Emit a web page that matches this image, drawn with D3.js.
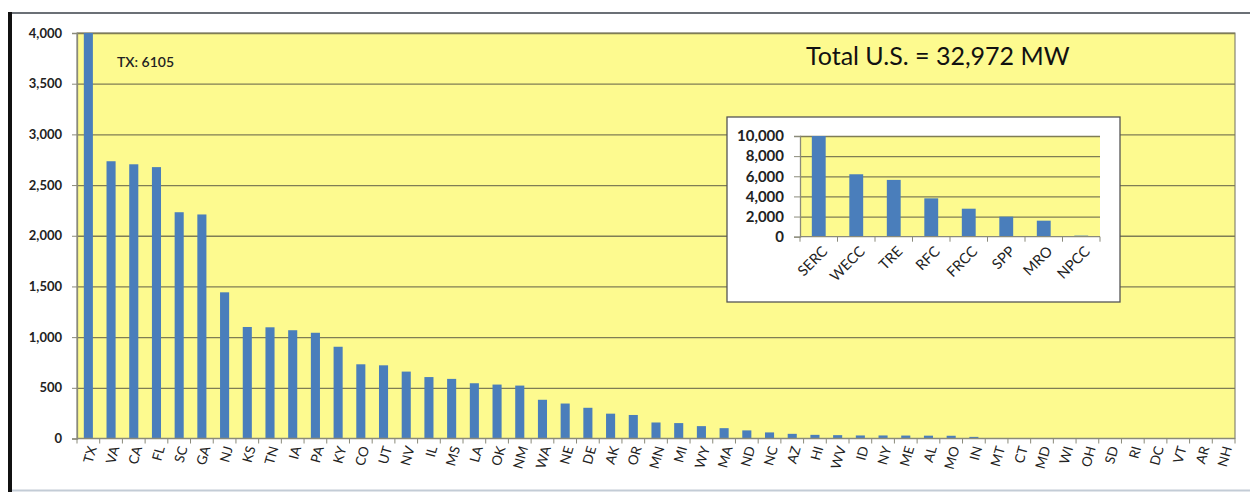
<!DOCTYPE html>
<html>
<head>
<meta charset="utf-8">
<script src="https://cdn.jsdelivr.net/npm/d3@7"></script>
<style>
  body { margin: 0; background: #fff; }
  text { font-family: Lato, "Open Sans", sans-serif; }
</style>
</head>
<body>
<div id="wrapper"></div>
<script>
// data (MW)
const states = ["TX","VA","CA","FL","SC","GA","NJ","KS","TN","IA","PA","KY","CO","UT","NV","IL","MS","LA","OK","NM",
  "WA","NE","DE","AK","OR","MN","MI","WY","MA","ND","NC","AZ","HI","WV","ID","NY","ME","AL","MO","IN",
  "MT","CT","MD","WI","OH","SD","RI","DC","VT","AR","NH"]
const stateMW = [6105,2735,2705,2677,2232,2210,1442,1100,1097,1068,1043,905,732,722,660,606,588,545,532,522,
  382,345,303,245,232,158,152,122,102,80,60,46,36,33,30,30,29,28,27,16,
  5,2,1,0,0,0,0,0,0,0,0]
const regions = ["SERC","WECC","TRE","RFC","FRCC","SPP","MRO","NPCC"]
const regionMW = [10850,6200,5640,3810,2780,1990,1590,110]
const totalUS = 32972
const yTicks = [0,500,1000,1500,2000,2500,3000,3500,4000]
const insetTicks = [0,2000,4000,6000,8000,10000]

const W = 1250, H = 492
const plot = { left: 77, right: 1235, top: 33, bottom: 438.5 }
const inset = { left: 800, right: 1100, top: 136, bottom: 236.7 }

const colors = {
  plotBg: "#fdfa8f",
  bar: "#4a7ebb",
  grid: "#7f7d55",
  axis: "#8a8a7a",
  text: "#222",
}

const svg = d3.select("#wrapper").append("svg")
  .attr("width", W).attr("height", H)

// page frame
svg.append("line")
  .attr("x1", 10).attr("x2", W).attr("y1", 13).attr("y2", 13)
  .attr("stroke", "#6b7076").attr("stroke-width", 2)
svg.append("rect")
  .attr("x", 8).attr("y", 12).attr("width", 4).attr("height", H - 12)
  .attr("fill", "#111")
svg.append("line")
  .attr("x1", 12).attr("x2", W).attr("y1", 490.5).attr("y2", 490.5)
  .attr("stroke", "#c3ccd6").attr("stroke-width", 2)

// ---------- main chart ----------
const x = d3.scaleBand()
  .domain(states)
  .range([plot.left, plot.right])
  .paddingInner(0.6)
  .paddingOuter(0.3)

const y = d3.scaleLinear()
  .domain([0, 4000])
  .range([plot.bottom, plot.top])

svg.append("rect")
  .attr("x", plot.left).attr("y", plot.top)
  .attr("width", plot.right - plot.left).attr("height", plot.bottom - plot.top)
  .attr("fill", colors.plotBg)
  .attr("stroke", "#6f6f60")

// gridlines
const grid = svg.append("g")
  .attr("transform", `translate(${plot.left},0)`)
  .call(d3.axisLeft(y).tickValues(yTicks.slice(1)).tickSize(-(plot.right - plot.left)).tickFormat(""))
grid.select(".domain").remove()
grid.selectAll("line").attr("stroke", colors.grid).attr("stroke-width", 1.3)

// bars (TX is cut at the top of the axis)
const yMax = y.domain()[1]
svg.append("g").selectAll("rect")
  .data(states)
  .join("rect")
    .attr("x", d => x(d))
    .attr("width", x.bandwidth())
    .attr("y", (d, i) => y(Math.min(stateMW[i], yMax)))
    .attr("height", (d, i) => y(0) - y(Math.min(stateMW[i], yMax)))
    .attr("fill", colors.bar)

// y axis
const yAxis = svg.append("g")
  .attr("transform", `translate(${plot.left},0)`)
  .call(d3.axisLeft(y).tickValues(yTicks).tickSize(5).tickPadding(10).tickFormat(d3.format(",")))
yAxis.select(".domain").attr("stroke", colors.axis).attr("stroke-width", 1.3)
yAxis.selectAll("line").attr("stroke", colors.axis)
yAxis.selectAll("text")
  .attr("fill", colors.text)
  .style("font-size", "13px")
  .style("font-weight", "bold")
  .style("font-family", "Lato, sans-serif")

// x axis: baseline, ticks between categories, rotated labels
const step = x.step()
const gap = (step - x.bandwidth()) / 2
svg.append("line")
  .attr("x1", plot.left).attr("x2", plot.right)
  .attr("y1", y(0)).attr("y2", y(0))
  .attr("stroke", colors.axis).attr("stroke-width", 1.3)
const bounds = states.map(d => x(d) - gap).concat([x(states[states.length - 1]) + x.bandwidth() + gap])
svg.append("g").selectAll("line")
  .data(bounds)
  .join("line")
    .attr("x1", d => d).attr("x2", d => d)
    .attr("y1", y(0)).attr("y2", y(0) + 5)
    .attr("stroke", colors.axis)

svg.append("g").selectAll("text")
  .data(states)
  .join("text")
    .attr("transform", d => `translate(${x(d) + x.bandwidth() / 2 + 4},${y(0) + 8}) rotate(-74)`)
    .attr("text-anchor", "end")
    .attr("dy", "0.35em")
    .attr("fill", colors.text)
    .style("font-size", "13.5px")
    .text(d => d)

svg.append("text")
  .attr("x", 117).attr("y", 67)
  .attr("fill", colors.text)
  .style("font-size", "14px")
  .style("font-weight", "600")
  .text(`TX: ${stateMW[0]}`)

svg.append("text")
  .attr("x", 806).attr("y", 65)
  .attr("fill", "#111")
  .style("font-size", "25px")
  .text(`Total U.S. = ${d3.format(",")(totalUS)} MW`)

// ---------- inset (NERC regions) ----------
svg.append("rect")
  .attr("x", 727).attr("y", 117)
  .attr("width", 393).attr("height", 185)
  .attr("fill", "#fff")
  .attr("stroke", "#555").attr("stroke-width", 1.3)

const xi = d3.scaleBand()
  .domain(regions)
  .range([inset.left, inset.right])
  .paddingInner(0.63)
  .paddingOuter(0.315)

const yi = d3.scaleLinear()
  .domain([0, 10000])
  .range([inset.bottom, inset.top])

svg.append("rect")
  .attr("x", inset.left).attr("y", inset.top)
  .attr("width", inset.right - inset.left).attr("height", inset.bottom - inset.top)
  .attr("fill", colors.plotBg)

const gridI = svg.append("g")
  .attr("transform", `translate(${inset.left},0)`)
  .call(d3.axisLeft(yi).tickValues(insetTicks.slice(1)).tickSize(-(inset.right - inset.left)).tickFormat(""))
gridI.select(".domain").remove()
gridI.selectAll("line").attr("stroke", colors.grid).attr("stroke-width", 1.3)

const yiMax = yi.domain()[1]
svg.append("g").selectAll("rect")
  .data(regions)
  .join("rect")
    .attr("x", d => xi(d))
    .attr("width", xi.bandwidth())
    .attr("y", (d, i) => yi(Math.min(regionMW[i], yiMax)))
    .attr("height", (d, i) => yi(0) - yi(Math.min(regionMW[i], yiMax)))
    .attr("fill", colors.bar)

const yiAxis = svg.append("g")
  .attr("transform", `translate(${inset.left},0)`)
  .call(d3.axisLeft(yi).tickValues(insetTicks).tickSize(6).tickPadding(10).tickFormat(d3.format(",")))
yiAxis.select(".domain").attr("stroke", colors.axis).attr("stroke-width", 1.3)
yiAxis.selectAll("line").attr("stroke", colors.axis)
yiAxis.selectAll("text")
  .attr("fill", colors.text)
  .style("font-size", "15px")
  .style("font-weight", "bold")
  .style("font-family", "Lato, sans-serif")

const stepI = xi.step()
const gapI = (stepI - xi.bandwidth()) / 2
svg.append("line")
  .attr("x1", inset.left).attr("x2", inset.right)
  .attr("y1", yi(0)).attr("y2", yi(0))
  .attr("stroke", colors.axis).attr("stroke-width", 1.3)
const boundsI = regions.map(d => xi(d) - gapI).concat([xi(regions[regions.length - 1]) + xi.bandwidth() + gapI])
svg.append("g").selectAll("line")
  .data(boundsI)
  .join("line")
    .attr("x1", d => d).attr("x2", d => d)
    .attr("y1", yi(0)).attr("y2", yi(0) + 5)
    .attr("stroke", colors.axis)

svg.append("g").selectAll("text")
  .data(regions)
  .join("text")
    .attr("transform", d => `translate(${xi(d) + xi.bandwidth() / 2 + 6},${yi(0) + 12}) rotate(-45)`)
    .attr("text-anchor", "end")
    .attr("dy", "0.35em")
    .attr("fill", colors.text)
    .style("font-size", "14.5px")
    .text(d => d)
</script>
</body>
</html>
